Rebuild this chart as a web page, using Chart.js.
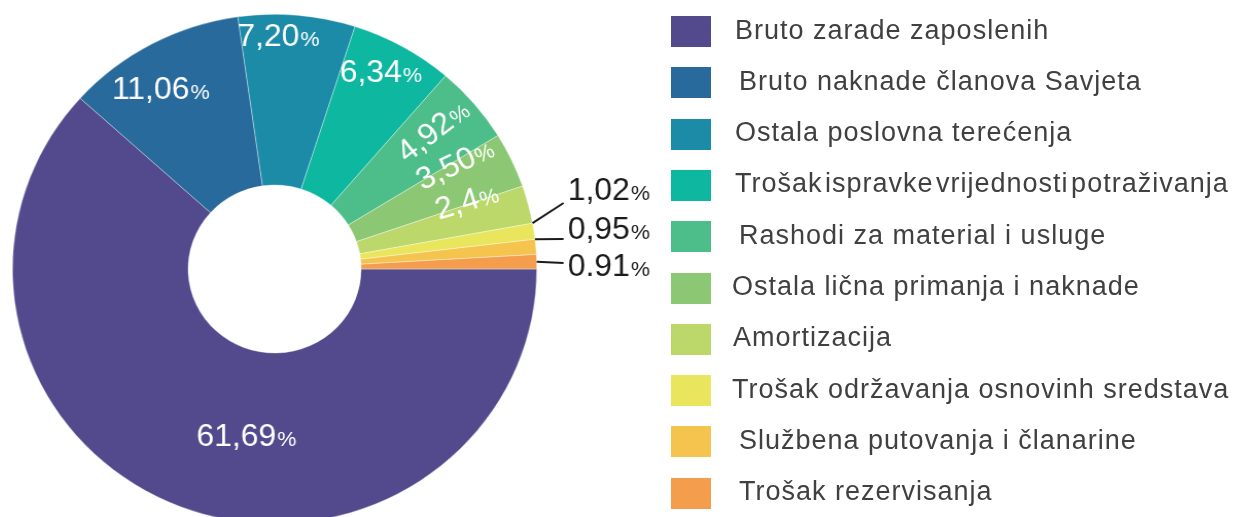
<!DOCTYPE html>
<html>
<head>
<meta charset="utf-8">
<script src="https://cdn.jsdelivr.net/npm/chart.js@4.4.0/dist/chart.umd.min.js"></script>
<style>
  body { margin:0; width:1235px; height:517px; overflow:hidden; background:#fff; position:relative; }
  #pie { position:absolute; left:7px; top:9px; transform:scaleX(1.0294); transform-origin:0 0; }
  .row { position:absolute; left:671px; width:560px; height:31px; }
  .sw { position:absolute; left:0; top:0; width:40px; height:31px; }
  .txt { position:absolute; left:64px; top:-1.5px; line-height:31px; white-space:nowrap;
         font-family:"Liberation Sans", Arial, sans-serif; font-size:27px; letter-spacing:1px; color:#404040; }
</style>
</head>
<body>
<div id="pie"><canvas id="myChart" width="680" height="520"></canvas></div>
<div id="legend"></div>
<script>
// podaci
var categories = ["Bruto zarade zaposlenih", "Bruto naknade članova Savjeta", "Ostala poslovna terećenja",
    "Trošak ispravke vrijednosti potraživanja", "Rashodi za material i usluge", "Ostala lična primanja i naknade",
    "Amortizacija", "Trošak održavanja osnovinh sredstava", "Službena putovanja i članarine", "Trošak rezervisanja"];
var values = [61.69, 11.06, 7.20, 6.34, 4.92, 3.50, 2.4, 1.02, 0.95, 0.91];
var valueLabels = ["61,69", "11,06", "7,20", "6,34", "4,92", "3,50", "2,4", "1,02", "0,95", "0.91"];
var colors = ["#534a8d", "#286a9b", "#1b8ba8", "#0db7a0", "#4dbe89", "#8cc873", "#bcd86b", "#e9e65e", "#f5c44f", "#f49d4c"];

// polozaj natpisa: [udio radijusa, pomak ugla, rotacija]
var insidePos = [[0.66, -11.5, 0], [0.833, -3.6, 0], [0.918, -4.1, 0], [0.878, -1.9, 0],
    [0.81, -1.8, -38], [0.80, -6, -26], [0.778, -5.7, -17]];
// vanjski natpisi: [y teksta, y kraja linije, mjesto pocetka linije na luku]
var outsidePos = [[-80, -66, 0], [-41, -30, 0], [-4, -6, 0.5]];

var legend = document.getElementById("legend");
var indent = [0, 4, 0, 0, 4, -3, -2, -3, 4, 4];
for (var i = 0; i < categories.length; i++) {
    var row = document.createElement("div");
    row.className = "row";
    row.style.top = (16 + i * 51.3) + "px";
    row.innerHTML = '<div class="sw" style="background:' + colors[i] + '"></div>' +
        '<div class="txt" style="left:' + (64 + indent[i]) + 'px' + (i == 3 ? ';word-spacing:-6px' : '') + '">' + categories[i] + '</div>';
    legend.appendChild(row);
}

function drawPct(ctx, text, x, y, color, align) {
    ctx.font = '31px "Liberation Sans", Arial, sans-serif';
    var w1 = ctx.measureText(text).width;
    ctx.font = '21px "Liberation Sans", Arial, sans-serif';
    var w2 = ctx.measureText('%').width;
    var left = align == 'left' ? x : x - (w1 + w2) / 2;
    var base = y + 0.36 * 31;
    ctx.fillStyle = color;
    ctx.textAlign = 'left';
    ctx.textBaseline = 'alphabetic';
    ctx.font = '31px "Liberation Sans", Arial, sans-serif';
    ctx.fillText(text, left, base);
    ctx.font = '21px "Liberation Sans", Arial, sans-serif';
    ctx.fillText('%', left + w1 + 1, base);
}

var labelPlugin = {
    id: 'pctLabels',
    afterDatasetsDraw: function(chart) {
        var ctx = chart.ctx;
        var arcs = chart.getDatasetMeta(0).data;
        ctx.save();
        arcs.forEach(function(arc, i) {
            var p = arc.getProps(['x', 'y', 'startAngle', 'endAngle', 'outerRadius'], true);
            var mid = (p.startAngle + p.endAngle) / 2;
            if (i < insidePos.length) {
                var a = mid + insidePos[i][1] * Math.PI / 180;
                var r = p.outerRadius * insidePos[i][0];
                ctx.save();
                ctx.translate(p.x + r * Math.cos(a), p.y + r * Math.sin(a));
                ctx.rotate(insidePos[i][2] * Math.PI / 180);
                drawPct(ctx, valueLabels[i], 0, 0, '#ffffff', 'center');
                ctx.restore();
            } else {
                var o = outsidePos[i - insidePos.length];
                var R = p.outerRadius;
                var s = p.startAngle + (p.endAngle - p.startAngle) * o[2];
                ctx.beginPath();
                ctx.strokeStyle = '#1a1a1a';
                ctx.lineWidth = 2;
                ctx.moveTo(p.x + R * Math.cos(s), p.y + R * Math.sin(s));
                ctx.lineTo(p.x + R + 26, p.y + o[1]);
                ctx.stroke();
                drawPct(ctx, valueLabels[i], p.x + R + 30, p.y + o[0], '#1a1a1a', 'left');
            }
        });
        ctx.restore();
    }
};

var ctx = document.getElementById("myChart").getContext('2d');
var pieChart = new Chart(ctx, {
    type: 'doughnut',
    data: {
        labels: categories,
        datasets: [{
            data: values,
            backgroundColor: colors,
            borderColor: 'rgba(255,255,255,0.5)',
            borderWidth: 0.7
        }]
    },
    options: {
        responsive: false,
        animation: false,
        rotation: 90,
        cutout: '33%',
        layout: { padding: { left: 5, top: 5, bottom: 5, right: 165 } },
        plugins: { legend: { display: false }, tooltip: { enabled: false } },
        events: []
    },
    plugins: [labelPlugin]
});
</script>
</body>
</html>
